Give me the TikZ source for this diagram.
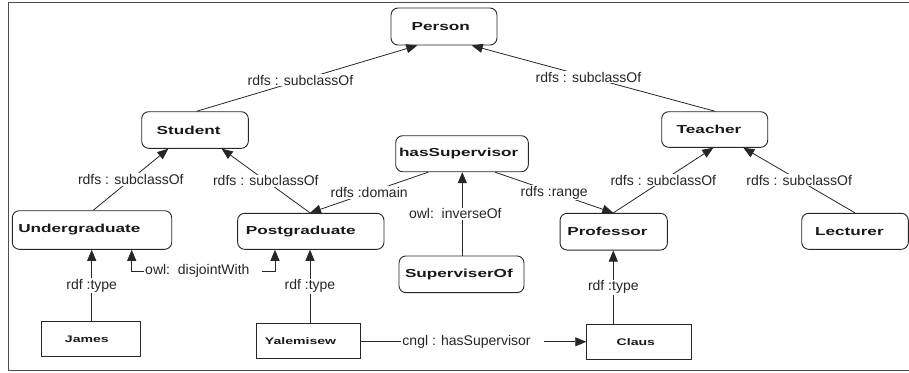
\documentclass[tikz,border=0pt]{standalone}
\usepackage{fontspec}
\setmainfont{Liberation Sans}
\newfontfamily\nodefont{Liberation Sans}[FakeStretch=1.48]
\usetikzlibrary{arrows.meta,calc}
\newcommand\nbox[3]{\makebox[#1pt][l]{\hspace{#2pt}#3}}
\begin{document}
\begin{tikzpicture}[x=1pt,y=-1pt,
 cls/.style={draw=black!85, line width=0.9pt, rounded corners=7pt, inner sep=0pt,
   font=\nodefont\bfseries\fontsize{11.6}{13}\selectfont, text=black!90},
 inst/.style={draw=black!85, line width=0.9pt, inner sep=0pt,
   font=\nodefont\bfseries\fontsize{9.5}{11}\selectfont, text=black!90},
 rel/.style={draw=black!85, line width=0.8pt, -{Triangle[length=11pt,width=9pt]}},
 relboth/.style={draw=black!85, line width=0.8pt, {Triangle[length=11pt,width=9pt]}-{Triangle[length=11pt,width=9pt]}},
 lbl/.style={fill=white, inner sep=1pt, font=\fontsize{14}{15}\selectfont, text=black!85}]
\useasboundingbox (0,0) rectangle (909,372);
\draw[black!70, line width=1pt] (909,2) -- (8,2) -- (8,370.7) -- (909,370.7);

% classes
\node[cls, minimum height=37pt]   (person)  at (444,26.5)   {\nbox{106}{20.7}{Person}};
\node[cls, minimum height=36.6pt] (student) at (195,130)    {\nbox{106.6}{15}{Student}};
\node[cls, minimum height=36pt]   (hassup)  at (462,153.7)  {\nbox{132.6}{3.3}{hasSupervisor}};
\node[cls, minimum height=35.6pt] (teacher) at (714.7,129.5){\nbox{106}{15}{Teacher}};
\node[cls, minimum height=38.6pt] (ugrad)   at (92,230)     {\nbox{159.4}{6}{Undergraduate}};
\node[cls, minimum height=36pt]   (pgrad)   at (310.8,231.3){\nbox{146.3}{8.3}{Postgraduate}};
\node[cls, minimum height=36.7pt] (supof)   at (461.5,274.3){\nbox{125}{6}{SuperviserOf}};
\node[cls, minimum height=36.7pt] (prof)    at (613.7,231.7){\nbox{107.3}{7.3}{Professor}};
\node[cls, minimum height=36pt]   (lect)    at (855,231.3)  {\nbox{106.6}{13.3}{Lecturer}};

% instances
\node[inst, minimum height=34.3pt] (james) at (90.8,338.8)  {\nbox{98.3}{23.3}{James}};
\node[inst, minimum height=35pt]   (yal)   at (308.3,340.8) {\nbox{104.7}{9}{Yalemisew}};
\node[inst, minimum height=35pt]   (claus) at (639.2,341.8) {\nbox{105}{30}{Claus}};

% subclass relations
\draw[rel] ([xshift=1.7pt]student.north) -- node[lbl,pos=0.47]{rdfs : subclassOf} ([xshift=-26.7pt]person.south);
\draw[rel] ([xshift=0.3pt]teacher.north) -- node[lbl,pos=0.52]{rdfs : subclassOf} ([xshift=27.7pt]person.south);
\draw[rel] ([xshift=1.3pt]ugrad.north) -- node[lbl]{rdfs : subclassOf} ([xshift=-26.7pt]student.south);
\draw[rel] ([xshift=-0.8pt]pgrad.north) -- node[lbl]{rdfs : subclassOf} ([xshift=26.7pt]student.south);
\draw[rel] ([xshift=-0.4pt]prof.north) -- node[lbl]{rdfs : subclassOf} ([xshift=-1.4pt]teacher.south);
\draw[rel] (lect.north) -- node[lbl]{rdfs : subclassOf} ([xshift=28.6pt]teacher.south);

% property relations
\draw[rel] ([xshift=-33.7pt]hassup.south) -- node[lbl]{rdfs :domain} ([xshift=-0.8pt]pgrad.north);
\draw[rel] ([xshift=33pt]hassup.south) -- node[lbl]{rdfs :range} ([xshift=-0.4pt]prof.north);
\draw[rel] ([xshift=0.8pt]supof.north) -- node[lbl,xshift=-7pt]{owl:\ \ inverseOf} ([xshift=0.8pt]supof.north |- hassup.south);

% disjoint
\draw[relboth] ([xshift=39.7pt]ugrad.south) -- ++(0,21.4) -| node[lbl,pos=0.25]{owl:\ \ disjointWith\hspace*{12pt}} ([xshift=-35.8pt]pgrad.south);

% types
\draw[rel] ([xshift=0.9pt]james.north) -- node[lbl]{rdf :type} ([xshift=0.9pt]james.north |- ugrad.south);
\draw[rel] ([xshift=1.7pt]yal.north) -- node[lbl]{rdf :type} ([xshift=1.7pt]yal.north |- pgrad.south);
\draw[rel] ([xshift=-25.9pt]claus.north) -- node[lbl]{rdf :type} ([xshift=-25.9pt]claus.north |- prof.south);

% instance relation
\draw[rel] (yal.east |- claus.west) -- node[lbl,pos=0.495]{cngl : hasSupervisor\hspace*{12pt}} (claus.west);
\end{tikzpicture}
\end{document}
